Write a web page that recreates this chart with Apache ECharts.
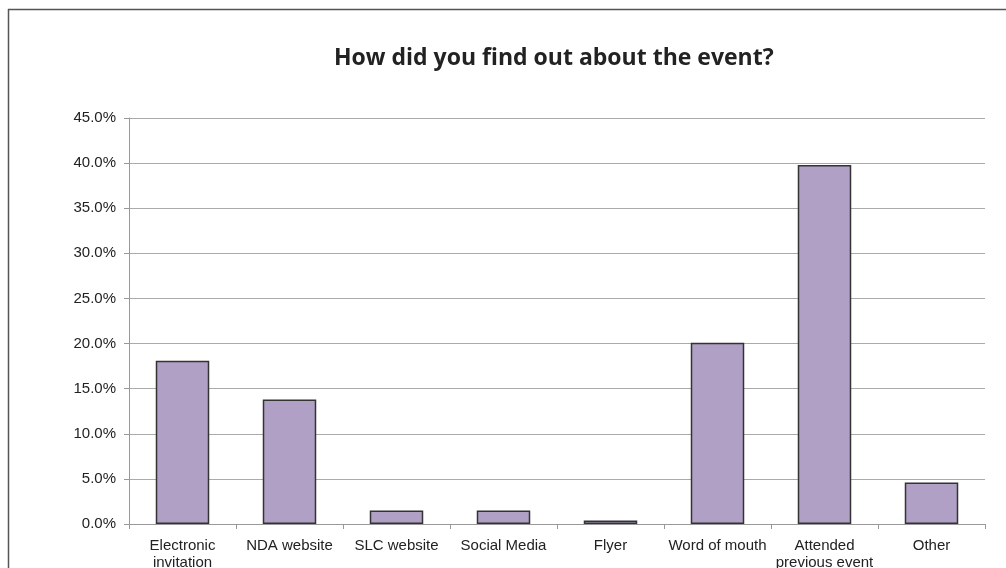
<!DOCTYPE html>
<html>
<head>
<meta charset="utf-8">
<script src="https://cdn.jsdelivr.net/npm/echarts@6/dist/echarts.min.js"></script>
<style>html,body{margin:0;padding:0;background:#fff}#c{width:1006px;height:568px}</style>
</head>
<body>
<div id="c"></div>
<script>
const titleText = "How did you find out about the event?";
const categories = ["Electronic\ninvitation", "NDA website", "SLC website", "Social Media", "Flyer", "Word of mouth", "Attended\nprevious event", "Other"];
const values = [18.1, 13.8, 1.5, 1.5, 0.4, 20.1, 39.8, 4.6];
const yMin = 0, yMax = 45, yStep = 5;

const chart = echarts.init(document.getElementById('c'), null, {renderer: 'canvas'});
chart.setOption({
  backgroundColor: '#fff',
  animation: false,
  title: {
    text: titleText, left: 329, top: 42,
    textStyle: {fontFamily: 'Open Sans', fontWeight: 'bold', fontSize: 23, color: '#222'}
  },
  graphic: [
    {type: 'line', shape: {x1: 8, y1: 9.5, x2: 1006, y2: 9.5}, style: {stroke: '#555', lineWidth: 1.5}},
    {type: 'line', shape: {x1: 8.5, y1: 9, x2: 8.5, y2: 568}, style: {stroke: '#555', lineWidth: 1.5}}
  ],
  grid: {left: 129, right: 21, top: 118, bottom: 44, containLabel: false, outerBoundsMode: 'none'},
  xAxis: {
    type: 'category', data: categories,
    axisLine: {lineStyle: {color: '#999'}},
    axisTick: {show: true, length: 5, lineStyle: {color: '#999'}},
    axisLabel: {fontFamily: 'Liberation Sans', fontSize: 15, color: '#222', margin: 13, lineHeight: 17, interval: 0}
  },
  yAxis: {
    type: 'value', min: yMin, max: yMax, interval: yStep,
    axisLine: {show: true, lineStyle: {color: '#999'}},
    axisTick: {show: true, length: 5, lineStyle: {color: '#999'}},
    splitLine: {lineStyle: {color: '#aaa'}},
    axisLabel: {fontFamily: 'Liberation Sans', fontSize: 15, color: '#222', margin: 13, formatter: v => v.toFixed(1) + '%'}
  },
  series: [{
    type: 'bar', data: values, barCategoryGap: '50%',
    itemStyle: {color: '#B0A0C6', borderColor: '#333', borderWidth: 1.5}
  }]
});
</script>
</body>
</html>
